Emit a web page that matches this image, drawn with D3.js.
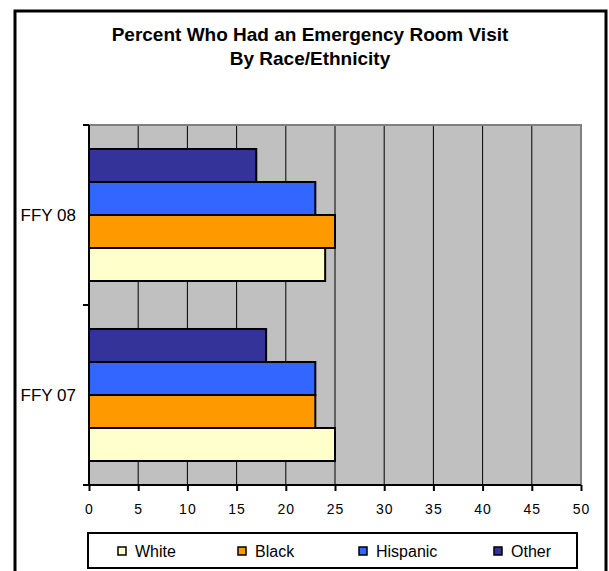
<!DOCTYPE html>
<html>
<head>
<meta charset="utf-8">
<script src="https://cdn.jsdelivr.net/npm/d3@7"></script>
<style>
  body { margin: 0; background: #fff; }
  text { font-family: Arial, "Liberation Sans", sans-serif; fill: #000; }
</style>
</head>
<body>
<div id="chart"></div>
<script>
// Data
var categories = ["FFY 08", "FFY 07"]
var seriesNames = ["White", "Black", "Hispanic", "Other"]
var whiteVals = { "FFY 07": 25, "FFY 08": 24 }
var blackVals = { "FFY 07": 23, "FFY 08": 25 }
var hispanicVals = { "FFY 07": 23, "FFY 08": 23 }
var otherVals = { "FFY 07": 18, "FFY 08": 17 }
var xTicks = [0, 5, 10, 15, 20, 25, 30, 35, 40, 45, 50]
var titleLines = ["Percent Who Had an Emergency Room Visit", "By Race/Ethnicity"]

var colors = { White: "#FFFFCC", Black: "#FF9900", Hispanic: "#3366FF", Other: "#333399" }
var valuesBySeries = { White: whiteVals, Black: blackVals, Hispanic: hispanicVals, Other: otherVals }

var width = 609
var height = 571

// plot area
var plotLeft = 89, plotRight = 581, plotTop = 125, plotBottom = 485

var svg = d3.select('#chart')
    .append('svg')
    .attr('width', width)
    .attr('height', height)

// chart border
svg.append('rect')
    .attr('x', 15).attr('y', 11)
    .attr('width', 591).attr('height', 580)
    .attr('fill', '#fff')
    .attr('stroke', '#000')
    .attr('stroke-width', 3)

// title
svg.selectAll('.title')
    .data(titleLines)
    .enter()
    .append('text')
    .attr('class', 'title')
    .attr('x', 310)
    .attr('y', (d, i) => 41 + i * 24)
    .attr('text-anchor', 'middle')
    .style('font-size', '19px')
    .style('font-weight', 'bold')
    .text(d => d)

var xScale = d3.scaleLinear()
    .domain([0, 50])
    .range([plotLeft, plotRight])

var yScale = d3.scaleBand()
    .domain(categories)
    .range([plotTop, plotBottom])

// bars drawn top to bottom: Other, Hispanic, Black, White
var inner = d3.scaleBand()
    .domain(seriesNames.slice().reverse())
    .range([0, yScale.bandwidth()])
    .paddingOuter(0.727)

// plot background
svg.append('rect')
    .attr('x', plotLeft).attr('y', plotTop)
    .attr('width', plotRight - plotLeft).attr('height', plotBottom - plotTop)
    .attr('fill', '#C0C0C0')

// gridlines
svg.selectAll('.grid')
    .data(xTicks.filter(d => d > 0 && d < 50))
    .enter()
    .append('line')
    .attr('x1', d => xScale(d)).attr('x2', d => xScale(d))
    .attr('y1', plotTop).attr('y2', plotBottom)
    .attr('stroke', '#000')
    .attr('stroke-width', 1)

// gray frame top & right
svg.append('path')
    .attr('d', `M${plotLeft},${plotTop}H${plotRight}V${plotBottom}`)
    .attr('fill', 'none')
    .attr('stroke', '#808080')
    .attr('stroke-width', 2)

// bars
var rows = []
categories.forEach(c => {
    seriesNames.forEach(s => {
        rows.push({ cat: c, series: s, value: valuesBySeries[s][c] })
    })
})

svg.selectAll('.bar')
    .data(rows)
    .enter()
    .append('rect')
    .attr('class', 'bar')
    .attr('x', xScale(0))
    .attr('y', d => yScale(d.cat) + inner(d.series))
    .attr('width', d => xScale(d.value) - xScale(0))
    .attr('height', inner.bandwidth())
    .attr('fill', d => colors[d.series])
    .attr('stroke', '#000')
    .attr('stroke-width', 2)

// x axis
var xAxis = d3.axisBottom(xScale)
    .tickValues(xTicks)
    .tickSize(6)
    .tickPadding(13)

var gx = svg.append('g')
    .attr('transform', `translate(0,${plotBottom})`)
    .call(xAxis)
gx.select('.domain').attr('stroke', '#000').attr('stroke-width', 2)
    .attr('d', `M${plotLeft - 5},0H${plotRight}`)
gx.selectAll('.tick line').attr('stroke', '#000').attr('stroke-width', 2)
gx.selectAll('.tick text')
    .style('font-size', '14px')
    .style('letter-spacing', '1px')
    .style('font-family', 'Arial, "Liberation Sans", sans-serif')

// y axis
var gy = svg.append('g')
gy.append('line')
    .attr('x1', plotLeft).attr('x2', plotLeft)
    .attr('y1', plotTop).attr('y2', plotBottom)
    .attr('stroke', '#000').attr('stroke-width', 2)

var catTicks = [plotTop].concat(categories.map(c => yScale(c) + yScale.bandwidth()))
gy.selectAll('.ctick')
    .data(catTicks)
    .enter()
    .append('line')
    .attr('x1', plotLeft - 6).attr('x2', plotLeft)
    .attr('y1', d => d).attr('y2', d => d)
    .attr('stroke', '#000').attr('stroke-width', 2)

gy.selectAll('.clabel')
    .data(categories)
    .enter()
    .append('text')
    .attr('x', 76)
    .attr('y', d => yScale(d) + yScale.bandwidth() / 2)
    .attr('dy', '0.35em')
    .attr('text-anchor', 'end')
    .style('font-size', '17px')
    .text(d => d)

// legend
var legend = svg.append('g')
legend.append('rect')
    .attr('x', 88).attr('y', 533)
    .attr('width', 489).attr('height', 35)
    .attr('fill', '#fff')
    .attr('stroke', '#000')
    .attr('stroke-width', 2)

var legendX = [118, 238, 359, 494]
var items = legend.selectAll('.item')
    .data(seriesNames)
    .enter()
    .append('g')
    .attr('transform', (d, i) => `translate(${legendX[i]},551)`)

items.append('rect')
    .attr('x', 0).attr('y', -4)
    .attr('width', 8).attr('height', 8)
    .attr('fill', d => colors[d])
    .attr('stroke', '#000')
    .attr('stroke-width', 1.5)

items.append('text')
    .attr('x', 17)
    .attr('y', 6)
    .style('font-size', '16px')
    .text(d => d)
</script>
</body>
</html>
